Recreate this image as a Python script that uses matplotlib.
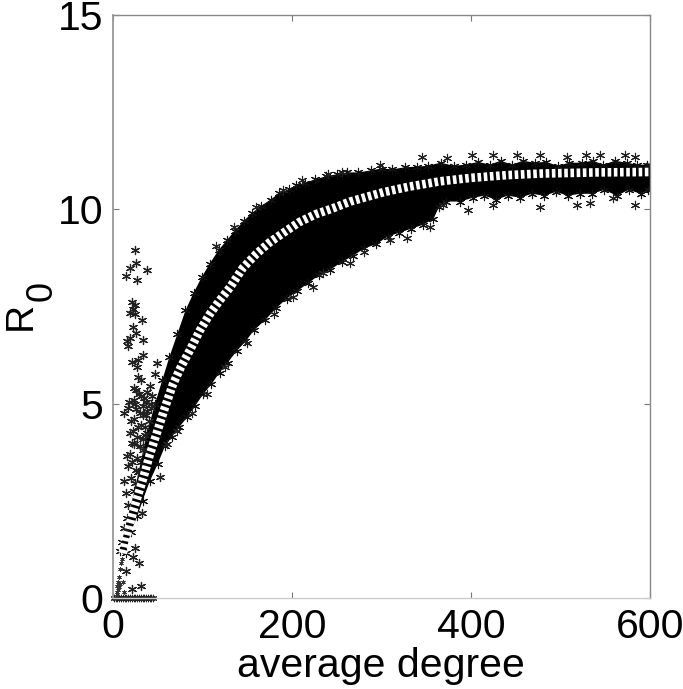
import matplotlib
matplotlib.use('Agg')
import matplotlib.pyplot as plt

plt.rcParams['font.family'] = ['Liberation Sans', 'DejaVu Sans']

## DATA

# mean curve (white dashes)
mean_k = [11, 16, 22, 28, 34, 41, 49, 58, 67, 76, 86, 97, 108, 119, 131, 145, 160, 175, 190, 208, 226, 246,
          265, 285, 302, 330, 365, 400, 440, 477, 540, 600]
mean_r = [1.15, 1.65, 2.18, 2.65, 3.1, 3.68, 4.25, 4.9, 5.5, 5.95, 6.38, 6.88, 7.3, 7.65, 8.0, 8.49, 8.85, 9.15, 9.39, 9.67, 9.87, 10.03,
          10.2, 10.33, 10.44, 10.58, 10.72, 10.81, 10.88, 10.92, 10.95, 10.96]

# stars along the top of the band
top_k = [8, 10, 16, 24, 31, 38, 47, 55, 63, 72, 81, 90, 99, 108, 118, 127, 136, 146, 155, 165, 176, 186,
         197, 205, 214, 226, 238, 250, 262, 274, 288, 300, 312, 326, 340, 352, 366, 381, 394, 408, 421,
         433, 446, 458, 471, 484, 497, 510, 524, 536, 548, 561, 574, 586, 597, 600]
top_r = [1.2, 1.45, 2.05, 2.75, 3.5, 4.25, 5.0, 5.6, 6.2, 6.8, 7.4, 7.85, 8.25, 8.6, 8.95, 9.2, 9.45, 9.7, 9.9, 10.08, 10.25, 10.42,
         10.52, 10.62, 10.68, 10.77, 10.85, 10.9, 10.95, 10.95, 11.0, 11.05, 11.03, 11.08, 11.1, 11.12, 11.2, 11.12, 11.15, 11.22, 11.15,
         11.25, 11.15, 11.25, 11.2, 11.22, 11.12, 11.2, 11.2, 11.25, 11.15, 11.25, 11.2, 11.15, 11.15, 11.15]

# stars along the bottom of the band
bot_k = [14, 20, 27, 33, 41, 50, 58, 66, 74, 83, 92, 101, 110, 119, 128, 138, 148, 158, 170, 182, 194, 206, 218, 230,
         243, 256, 268, 281, 294, 307, 320, 333, 346, 358, 364, 372, 388, 402, 415, 428, 441, 455, 468, 482,
         495, 508, 522, 535, 549, 563, 576, 590, 598, 600]
bot_r = [1.15, 1.7, 2.1, 2.5, 3.0, 3.45, 3.9, 4.15, 4.4, 4.65, 4.95, 5.25, 5.5, 5.8, 6.05, 6.35, 6.6, 6.9, 7.15, 7.45, 7.7, 7.9, 8.1, 8.3,
         8.45, 8.65, 8.8, 9.0, 9.1, 9.3, 9.4, 9.5, 9.6, 9.75, 10.05, 10.2, 10.2, 10.3, 10.35, 10.25, 10.35, 10.3, 10.4, 10.35,
         10.45, 10.35, 10.4, 10.4, 10.5, 10.35, 10.5, 10.4, 10.5, 10.5]

# strays just outside the band
stray_k = [211, 256, 298, 345, 373, 401, 425, 451, 477, 507, 529, 544, 572, 583,
           201, 224, 265, 328, 354, 369, 397, 425, 477, 518, 533, 559, 583,
           60, 72, 88, 105, 125, 150, 180, 235, 280, 310, 115, 135, 160, 190, 240]
stray_r = [10.75, 10.96, 11.14, 11.35, 11.32, 11.4, 11.4, 11.4, 11.4, 11.35, 11.4, 11.4, 11.4, 11.35,
           7.74, 8.0, 8.62, 9.26, 9.55, 10.11, 9.98, 10.1, 10.06, 10.1, 10.16, 10.29, 10.11,
           3.95, 4.3, 4.75, 5.25, 5.95, 6.55, 7.3, 8.35, 8.9, 9.2, 9.05, 9.55, 10.05, 10.5, 10.9]

# loose cloud left of the band at low degree
cloud_k = [24.6, 25.3, 19, 14.5, 26.5, 38.4, 20.9, 24.6, 22.7, 19, 24.6, 32.8, 22.7, 25.7, 33.9, 19, 15.3, 17.1,
           33.9, 20.9, 28.3, 26.5, 48.8, 46.9, 28.3, 31, 26, 41, 31, 23, 37, 17, 26, 34, 12, 28, 36, 21, 30, 19,
           17, 12, 15, 17, 12, 24.6, 22, 29.4, 14.5, 31, 21, 52, 32,
           38, 42, 24, 33, 20, 27, 36, 44, 30, 25, 38, 22, 34, 18, 29, 40, 23, 35, 27, 19, 31, 43, 26, 37, 21, 33, 28, 24, 16, 20, 25]
cloud_r = [8.95, 8.61, 8.5, 8.29, 8.18, 8.44, 7.62, 7.54, 7.43, 7.32, 7.3, 7.15, 6.98, 6.81, 6.64, 6.68, 6.6, 6.48,
           6.25, 6.08, 6.12, 5.95, 6.04, 5.76, 5.69, 5.6, 5.35, 5.45, 5.2, 5.1, 5.05, 4.9, 4.85, 4.7, 4.75, 4.4, 4.2, 4.0, 3.9, 3.7,
           3.4, 3.0, 2.7, 2.4, 1.8, 1.28, 1.05, 0.89, 0.7, 0.32, 0.22, 3.12, 2.18,
           5.3, 5.0, 4.6, 4.95, 4.55, 4.15, 4.4, 5.2, 4.75, 5.0, 4.8, 4.3, 3.8, 5.05, 5.25, 4.55, 5.4, 5.15, 3.6, 4.25, 4.45, 4.9, 3.3, 4.7, 3.5, 4.1, 3.25, 3.95, 3.65, 3.1, 2.95]

# row of stars lying on zero, and the thin start of the curve
zero_k = [1, 3, 5, 7, 9, 11, 13, 15, 17, 19, 21, 23, 25, 27, 29, 31, 33, 35, 37, 39, 41, 43, 45]
zero_r = [0, 0, 0, 0, 0, 0, 0, 0, 0, 0, 0, 0, 0, 0, 0, 0, 0, 0, 0, 0, 0, 0, 0]
start_k = [4, 5, 5, 6, 6, 7, 7, 8, 8, 9, 10, 11, 12]
start_r = [0.1, 0.15, 0.3, 0.2, 0.4, 0.28, 0.55, 0.35, 0.75, 0.9, 1.0, 0.42, 0.15]

x_ticks = [0, 200, 400, 600]
y_ticks = [0, 5, 10, 15]

## PLOT
fig = plt.figure(figsize=(6.83, 6.89), dpi=100)
ax = fig.add_axes([113 / 683, 1 - 598 / 689, 537 / 683, 583 / 689])

ax.fill(top_k + bot_k[::-1], top_r + bot_r[::-1], color='black', lw=0, zorder=2)

star = (6, 2, 0)
ax.scatter(top_k, top_r, marker=star, s=36, c='#111111', lw=0.8, zorder=2)
ax.scatter(bot_k, bot_r, marker=star, s=36, c='#111111', lw=0.8, zorder=2)
ax.scatter(stray_k, stray_r, marker=star, s=36, c='#222222', lw=0.8, zorder=2, clip_on=False)
ax.scatter(cloud_k, cloud_r, marker=star, s=34, c='#222222', lw=0.9, zorder=2, clip_on=False)
ax.scatter(zero_k, zero_r, marker=star, s=22, c='#222222', lw=0.8, zorder=2, clip_on=False)
ax.scatter(start_k, start_r, marker=star, s=9, c='#333333', lw=0.5, zorder=2)

ax.plot(mean_k, mean_r, color='white', lw=6.2, dashes=(0.42, 0.3), dash_capstyle='butt', zorder=3)

ax.set_xlim(0, 600)
ax.set_ylim(0, 15)
ax.set_xticks(x_ticks)
ax.set_yticks(y_ticks)
ax.tick_params(direction='in', length=4, width=0.8, color='#777777', labelsize=29.5, pad=7,
               top=True, right=True)
for s in ax.spines.values():
    s.set_color('#888888')
    s.set_linewidth(1.0)
ax.spines['bottom'].set_color('#cccccc')
ax.spines['left'].set_color('#999999')
ax.spines['left'].set_linewidth(1.3)

# labels placed by hand, baseline and centre from the reference
fig.text(381 / 683, 1 - 677 / 689, 'average degree', fontsize=29.5, ha='center', va='baseline')
fig.text(31 / 683, 1 - 316 / 689, 'R', fontsize=28, rotation=90, rotation_mode='anchor',
         ha='center', va='baseline')
fig.text(52 / 683, 1 - 291 / 689, '0', fontsize=26, rotation=90, rotation_mode='anchor',
         ha='center', va='baseline')

plt.savefig('out.png', dpi=100)
